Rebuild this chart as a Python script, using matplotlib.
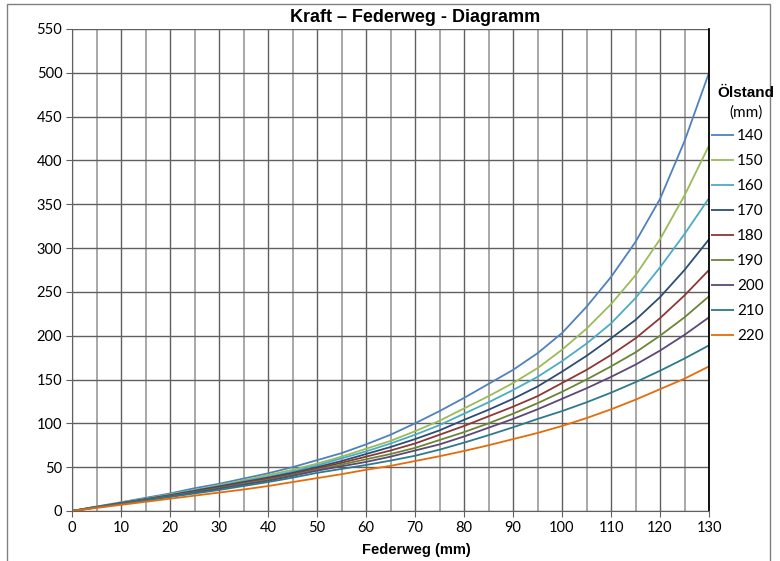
import matplotlib
matplotlib.use("Agg")
import matplotlib.pyplot as plt
from matplotlib.patches import Rectangle
from matplotlib.ticker import MultipleLocator

# Data
federweg = [0, 5, 10, 15, 20, 25, 30, 35, 40, 45, 50, 55, 60, 65,
            70, 75, 80, 85, 90, 95, 100, 105, 110, 115, 120, 125, 130]

oelstand = ["140", "150", "160", "170", "180", "190", "200", "210", "220"]

kraft_140 = [0, 5, 10, 15, 20, 26, 31, 37, 43, 50, 58, 66, 76, 87,
             100, 114, 129, 145, 161, 180, 203, 233, 267, 307, 356, 422, 500]
kraft_150 = [0, 5, 9.5, 14, 19, 24, 29.5, 35, 41, 47, 54, 62, 71, 80,
             91, 103, 117, 131, 146, 163, 184, 208, 236, 269, 310, 360, 417]
kraft_160 = [0, 5, 9, 14, 18.5, 23.5, 28.5, 34, 39, 45, 52, 60, 68, 77,
             87, 98, 111, 124, 138, 153, 171, 191, 214, 243, 278, 316, 357]
kraft_170 = [0, 4.5, 9, 13.5, 18, 23, 28, 33, 38, 43.5, 50, 57, 65, 73,
             82, 92, 104, 115.5, 128, 142, 159, 177, 197, 218, 244, 275, 310]
kraft_180 = [0, 4.5, 9, 13, 17.5, 22, 27, 32, 37, 42, 48.5, 55, 62, 69,
             77, 87, 97, 108, 119, 131, 146, 161, 178, 197, 220, 246, 275]
kraft_190 = [0, 4.5, 8.5, 13, 17, 21.5, 26, 31, 35.5, 41, 47, 53, 59, 65,
             72, 81, 90, 100, 111, 123, 136, 150, 165, 181, 200, 221, 245]
kraft_200 = [0, 4, 8.5, 12.5, 16.5, 21, 25.5, 30, 34.5, 40, 46, 51, 56, 62,
             69, 76, 85, 95, 105, 116, 128, 140, 153, 167, 183, 201, 221]
kraft_210 = [0, 4, 8, 12, 16, 20, 24, 28.5, 33, 38, 43.5, 48, 52.5, 57.5,
             63, 70, 78, 86.5, 95.5, 105, 114, 124, 135, 147, 160, 174, 189]
kraft_220 = [0, 3.5, 7, 10.5, 14, 17.5, 21, 24.5, 28.5, 33, 37.5, 42, 47, 51.5,
             57, 62.5, 68.5, 75, 82, 89, 97, 106, 116, 127, 139, 151, 165]

series = [kraft_140, kraft_150, kraft_160, kraft_170, kraft_180,
          kraft_190, kraft_200, kraft_210, kraft_220]
colors = ["#4F81BD", "#9BBB59", "#4BACC6", "#2C4D75", "#8C3836",
          "#6B8535", "#5C4776", "#2E7A8A", "#E46C0A"]

plt.rcParams["font.family"] = ["Lato", "DejaVu Sans"]

fig = plt.figure(figsize=(7.8, 5.61), dpi=100)
ax = fig.add_axes([72 / 780, 1 - 511 / 561, 637 / 780, 482 / 561])

# Plotting
for name, values, color in zip(oelstand, series, colors):
    ax.plot(federweg, values, color=color, linewidth=1.3, label=name,
            solid_capstyle="butt")

ax.set_xlim(0, 130)
ax.set_ylim(0, 550)
ax.xaxis.set_major_locator(MultipleLocator(10))
ax.xaxis.set_minor_locator(MultipleLocator(5))
ax.yaxis.set_major_locator(MultipleLocator(50))

ax.grid(which="major", axis="both", color="#606060", linewidth=1.0)
ax.grid(which="minor", axis="x", color="#9a9a9a", linewidth=1.2)
ax.set_axisbelow(True)

ax.tick_params(axis="both", which="major", labelsize=10.5, length=4,
               color="#606060", pad=3)
ax.tick_params(axis="x", which="minor", length=0)
for side in ["left", "bottom"]:
    ax.spines[side].set_color("#606060")
ax.spines["top"].set_visible(False)
ax.spines["right"].set_color("black")
ax.spines["right"].set_linewidth(1.3)

# Titles
fig.text(415 / 780, 1 - 17 / 561, "Kraft \u2013 Federweg - Diagramm",
         ha="center", va="center", fontsize=13, fontweight="bold",
         family=["Liberation Sans Narrow", "Liberation Sans", "DejaVu Sans"])
fig.text(416 / 780, 1 - 550 / 561, "Federweg (mm)", ha="center", va="center",
         fontsize=10.5, fontweight="bold",
         family=["Liberation Sans", "DejaVu Sans"])

# Legend
fig.text(746 / 780, 1 - 93 / 561, "Ölstand", ha="center", va="center",
         fontsize=11, fontweight="bold",
         family=["Liberation Sans", "DejaVu Sans"])
fig.text(746 / 780, 1 - 113 / 561, "(mm)", ha="center", va="center",
         fontsize=11)
legend = ax.legend(loc="upper left", bbox_to_anchor=(711 / 780, 1 - 129 / 561),
                   bbox_transform=fig.transFigure, frameon=False,
                   handlelength=1.5, handletextpad=0.2, labelspacing=0.72,
                   fontsize=11, borderaxespad=0, borderpad=0)

# Outer border
fig.patches.append(Rectangle((7 / 780, -0.05), 763 / 780, 1.05 - 4 / 561,
                             transform=fig.transFigure, fill=False,
                             edgecolor="#808080", linewidth=1.0))

fig.savefig("out.png", dpi=100)
